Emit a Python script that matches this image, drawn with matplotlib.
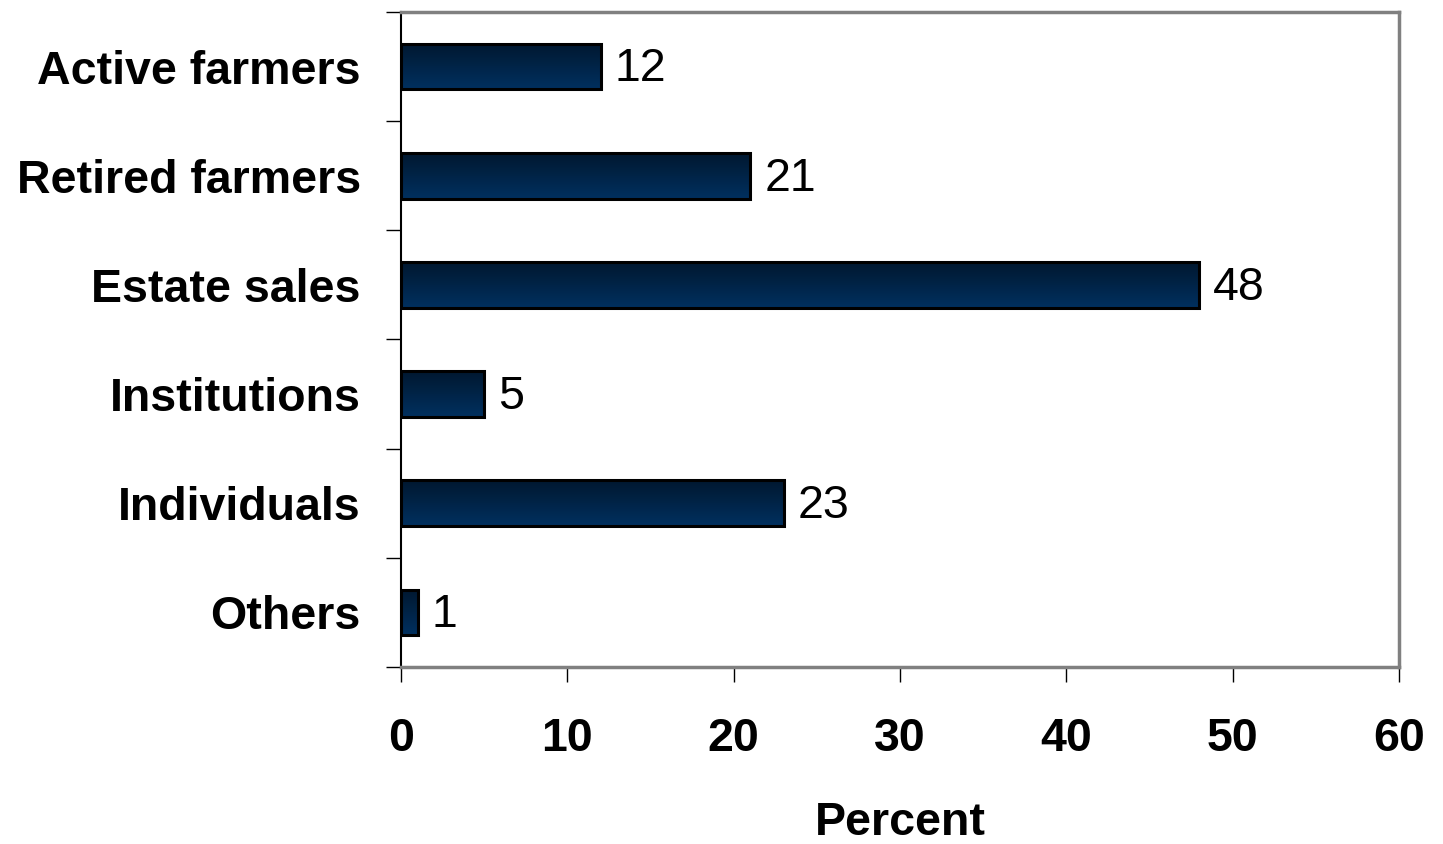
import numpy as np
import matplotlib.pyplot as plt
from matplotlib.colors import LinearSegmentedColormap

plt.rcParams['font.family'] = ['Liberation Sans', 'DejaVu Sans']

categories = ["Active farmers", "Retired farmers", "Estate sales",
              "Institutions", "Individuals", "Others"]
percent = [12, 21, 48, 5, 23, 1]
x_ticks = [0, 10, 20, 30, 40, 50, 60]

fig = plt.figure(figsize=(14.43, 8.44), dpi=100)
ax = fig.add_axes([0.2779, 0.2097, 0.6916, 0.7761])

# dark navy gradient, darker at the top of each bar
navy = LinearSegmentedColormap.from_list("navy", ["#011830", "#00305f"])
grad = np.linspace(0, 1, 64).reshape(-1, 1)

bar_h = 0.42
ypos = np.arange(len(categories))[::-1]
for y, v in zip(ypos, percent):
    ax.imshow(grad, cmap=navy, aspect="auto", origin="upper",
              extent=[0, v, y - bar_h / 2, y + bar_h / 2], zorder=2)
    ax.barh(y, v, height=bar_h, facecolor="none", edgecolor="black",
            linewidth=2.2, zorder=3)
    ax.annotate(str(v), (v, y), xytext=(10, -2), textcoords="offset points",
                ha="left", va="center", fontsize=33.5)

ax.set_xlim(0, 60)
ax.set_ylim(-0.5, len(categories) - 0.5)
ax.set_xticks(x_ticks)
ax.set_xticklabels([str(t) for t in x_ticks], fontsize=33.5, fontweight="bold")
ax.set_yticks(ypos)
ax.set_yticklabels(categories, fontsize=33.5, fontweight="bold")
ax.set_yticks(np.arange(-0.5, len(categories), 1), minor=True)
ax.tick_params(axis="y", which="major", length=0, pad=29)
ax.tick_params(axis="y", which="minor", length=11, width=1, direction="out")
ax.tick_params(axis="x", length=11, width=1, direction="out", pad=25)
ax.set_xlabel("Percent", fontsize=33.5, fontweight="bold", labelpad=29)

for side in ["top", "right", "bottom"]:
    ax.spines[side].set_color("#808080")
    ax.spines[side].set_linewidth(2.5)
ax.spines["left"].set_color("black")
ax.spines["left"].set_linewidth(1.5)

fig.savefig("out.png", dpi=100)
